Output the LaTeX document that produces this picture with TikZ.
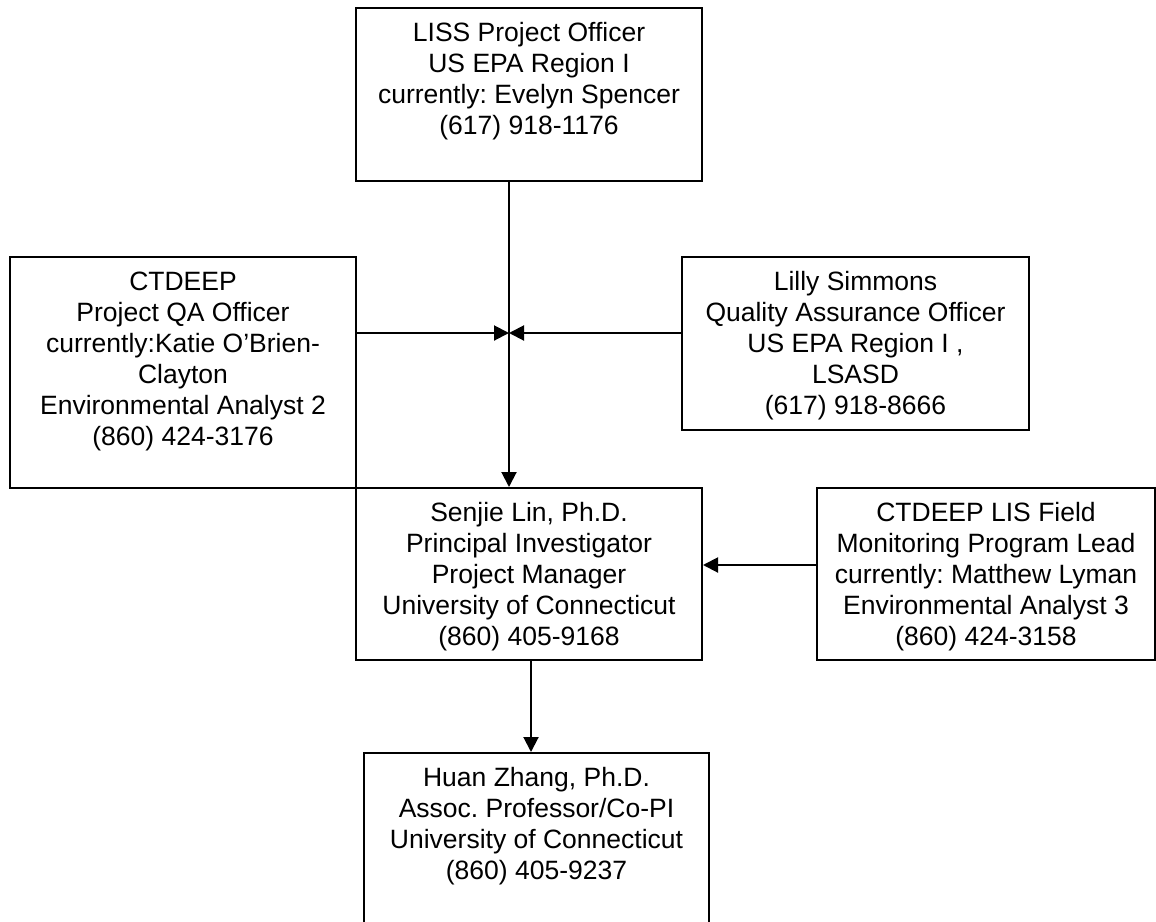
\documentclass[tikz,border=0pt]{standalone}
\usepackage{fontspec}
\setmainfont{Liberation Sans}
\usetikzlibrary{arrows.meta,positioning,calc}
\definecolor{ink}{RGB}{0,0,0}
\frenchspacing
\tikzset{
  >={Triangle[length=15pt,width=15pt]},
  box/.style={draw=ink,line width=2pt,inner sep=0pt,anchor=north west},
  tag/.style={font=\fontsize{26.5}{31}\selectfont,text=ink,align=center,
    inner sep=0pt,anchor=north},
  flow/.style={->,line width=2pt,draw=ink},
}

\begin{document}
\begin{tikzpicture}[x=1pt,y=-1pt]
    \useasboundingbox (0,0) rectangle (1156,921);
    % boxes
    \node[box,minimum width=346pt,minimum height=173pt] (liss) at (355,7) {};
    \node[tag] at ([yshift=-15.5pt]liss.north) {LISS Project Officer\\US EPA Region I\\currently: Evelyn Spencer\\(617) 918-1176};
    \node[box,minimum width=346pt,minimum height=231pt] (qa) at (9,256) {};
    \node[tag] at ([yshift=-15.5pt]qa.north) {CTDEEP\\Project QA Officer\\currently:Katie O’Brien-\\Clayton\\Environmental Analyst 2\\(860) 424-3176};
    \node[box,minimum width=347pt,minimum height=173pt] (lilly) at (681,256) {};
    \node[tag] at ([yshift=-15.5pt]lilly.north) {Lilly Simmons\\Quality Assurance Officer\\US EPA Region I ,\\LSASD\\(617) 918-8666};
    \node[box,minimum width=346pt,minimum height=172pt] (pi) at (355,487) {};
    \node[tag] at ([yshift=-15.5pt]pi.north) {Senjie Lin, Ph.D.\\Principal Investigator\\Project Manager\\University of Connecticut\\(860) 405-9168};
    \node[box,minimum width=338pt,minimum height=172pt] (field) at (816,487) {};
    \node[tag] at ([yshift=-15.5pt]field.north) {CTDEEP LIS Field\\Monitoring Program Lead\\currently: Matthew Lyman\\Environmental Analyst 3\\(860) 424-3158};
    \node[box,minimum width=345pt,minimum height=185pt] (copi) at (363,752) {};
    \node[tag] at ([yshift=-15.5pt]copi.north) {Huan Zhang, Ph.D.\\Assoc. Professor/Co-PI\\University of Connecticut\\(860) 405-9237};
    % connectors
    \coordinate (hub) at (509,333);
    \draw[flow] (liss.south -| hub) -- (pi.north -| hub);
    \draw[flow] (qa.east |- hub) -- (hub);
    \draw[flow] (lilly.west |- hub) -- (hub);
    \draw[flow] ([yshift=9pt]field.west) -- ([yshift=9pt]pi.east);
    \draw[flow] ([xshift=2pt]pi.south) -- ([xshift=2pt]pi.south |- copi.north);
\end{tikzpicture}
\end{document}
